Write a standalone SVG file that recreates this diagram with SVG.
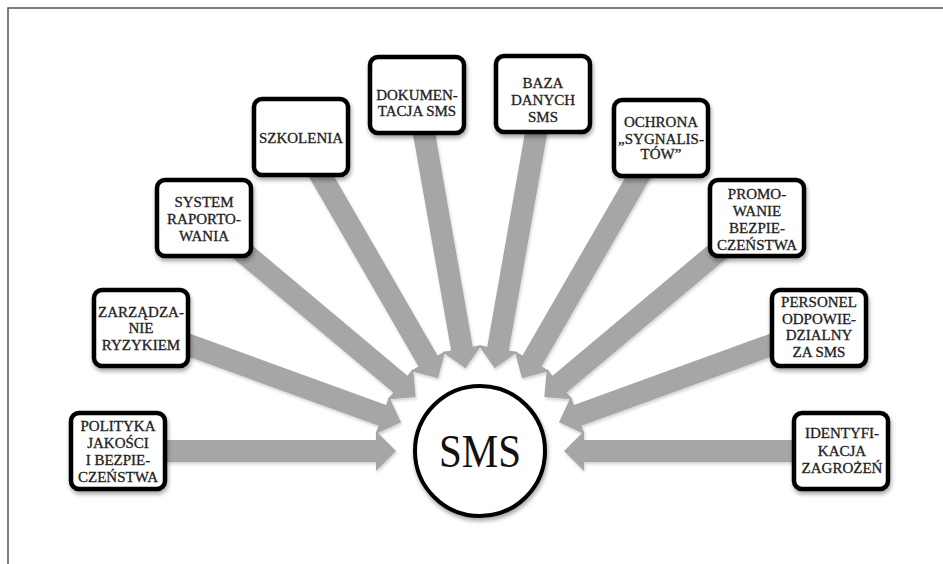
<svg xmlns="http://www.w3.org/2000/svg" xmlns:xlink="http://www.w3.org/1999/xlink" width="943" height="564" viewBox="0 0 943 564">
<style>
.box{fill:#fff;stroke:#000;stroke-width:4.5}
.lbl{font-family:"Liberation Serif","Times New Roman",serif;font-size:15px;fill:#222;stroke:#222;stroke-width:0.3;text-anchor:middle}
.arr{fill:#a6a6a6}
</style>
<defs>
<filter id="sh" x="-20%" y="-20%" width="140%" height="150%">
<feDropShadow dx="1" dy="3" stdDeviation="2.2" flood-color="#000" flood-opacity="0.35"/>
</filter>
<filter id="ash" x="-10%" y="-30%" width="120%" height="160%">
<feDropShadow dx="1" dy="2" stdDeviation="1.5" flood-color="#000" flood-opacity="0.18"/>
</filter>
<path id="arrow" class="arr" d="M-363,-11 L-104,-11 L-104,-20 L-84,0 L-104,20 L-104,11 L-363,11 Z"/>
</defs>
<rect x="0" y="0" width="943" height="564" fill="#fff"/>
<path d="M8,564 L8,8 L943,8" fill="none" stroke="#555" stroke-width="1.5"/>

<g id="connectors" filter="url(#ash)">
<use xlink:href="#arrow" transform="translate(480 451) rotate(0)"/>
<use xlink:href="#arrow" transform="translate(480 451) rotate(20)"/>
<use xlink:href="#arrow" transform="translate(480 451) rotate(40)"/>
<use xlink:href="#arrow" transform="translate(480 451) rotate(60)"/>
<use xlink:href="#arrow" transform="translate(480 451) rotate(80)"/>
<use xlink:href="#arrow" transform="translate(480 451) rotate(100)"/>
<use xlink:href="#arrow" transform="translate(480 451) rotate(120)"/>
<use xlink:href="#arrow" transform="translate(480 451) rotate(140)"/>
<use xlink:href="#arrow" transform="translate(480 451) rotate(160)"/>
<use xlink:href="#arrow" transform="translate(480 451) rotate(180)"/>
</g>

<g id="sms">
<circle cx="480" cy="451" r="65" fill="#fff" stroke="#000" stroke-width="4" filter="url(#sh)"/>
<text x="480" y="467" font-family="Liberation Serif, Times New Roman, serif" font-size="47" fill="#111" text-anchor="middle" textLength="82" lengthAdjust="spacingAndGlyphs">SMS</text>
</g>

<g id="polityka">
<rect class="box" x="71" y="413" width="94" height="76" rx="8" filter="url(#sh)"/>
<text class="lbl" x="118" y="431">POLITYKA</text>
<text class="lbl" x="118" y="447.5">JAKOŚCI</text>
<text class="lbl" x="118" y="464.5">I BEZPIE-</text>
<text class="lbl" x="118" y="481.5">CZEŃSTWA</text>
</g>

<g id="zarzadzanie">
<rect class="box" x="94" y="290" width="94" height="76" rx="8" filter="url(#sh)"/>
<text class="lbl" x="141" y="316.5">ZARZĄDZA-</text>
<text class="lbl" x="141" y="333">NIE</text>
<text class="lbl" x="141" y="350">RYZYKIEM</text>
</g>

<g id="system">
<rect class="box" x="157" y="180" width="94" height="76" rx="8" filter="url(#sh)"/>
<text class="lbl" x="204" y="207">SYSTEM</text>
<text class="lbl" x="204" y="224">RAPORTO-</text>
<text class="lbl" x="204" y="241">WANIA</text>
</g>

<g id="szkolenia">
<rect class="box" x="254" y="99" width="94" height="76" rx="8" filter="url(#sh)"/>
<text class="lbl" x="301" y="143">SZKOLENIA</text>
</g>

<g id="dokumentacja">
<rect class="box" x="370" y="57" width="94" height="76" rx="8" filter="url(#sh)"/>
<text class="lbl" x="417" y="99.5">DOKUMEN-</text>
<text class="lbl" x="417" y="116">TACJA SMS</text>
</g>

<g id="baza">
<rect class="box" x="496" y="56" width="94" height="76" rx="8" filter="url(#sh)"/>
<text class="lbl" x="543" y="88">BAZA</text>
<text class="lbl" x="543" y="105">DANYCH</text>
<text class="lbl" x="543" y="122">SMS</text>
</g>

<g id="ochrona">
<rect class="box" x="614" y="100" width="94" height="76" rx="8" filter="url(#sh)"/>
<text class="lbl" x="661" y="127">OCHRONA</text>
<text class="lbl" x="661" y="143.5">„SYGNALIS-</text>
<text class="lbl" x="661" y="159">TÓW”</text>
</g>

<g id="promowanie">
<rect class="box" x="710" y="180" width="94" height="76" rx="8" filter="url(#sh)"/>
<text class="lbl" x="757" y="198.5">PROMO-</text>
<text class="lbl" x="757" y="216">WANIE</text>
<text class="lbl" x="757" y="233">BEZPIE-</text>
<text class="lbl" x="757" y="250">CZEŃSTWA</text>
</g>

<g id="personel">
<rect class="box" x="772" y="290" width="94" height="76" rx="8" filter="url(#sh)"/>
<text class="lbl" x="819" y="307">PERSONEL</text>
<text class="lbl" x="819" y="323.5">ODPOWIE-</text>
<text class="lbl" x="819" y="340">DZIALNY</text>
<text class="lbl" x="819" y="356.5">ZA SMS</text>
</g>

<g id="identyfikacja">
<rect class="box" x="794" y="413" width="94" height="76" rx="8" filter="url(#sh)"/>
<text class="lbl" x="842" y="438">IDENTYFI-</text>
<text class="lbl" x="842" y="455.5">KACJA</text>
<text class="lbl" x="842" y="473">ZAGROŻEŃ</text>
</g>
</svg>
